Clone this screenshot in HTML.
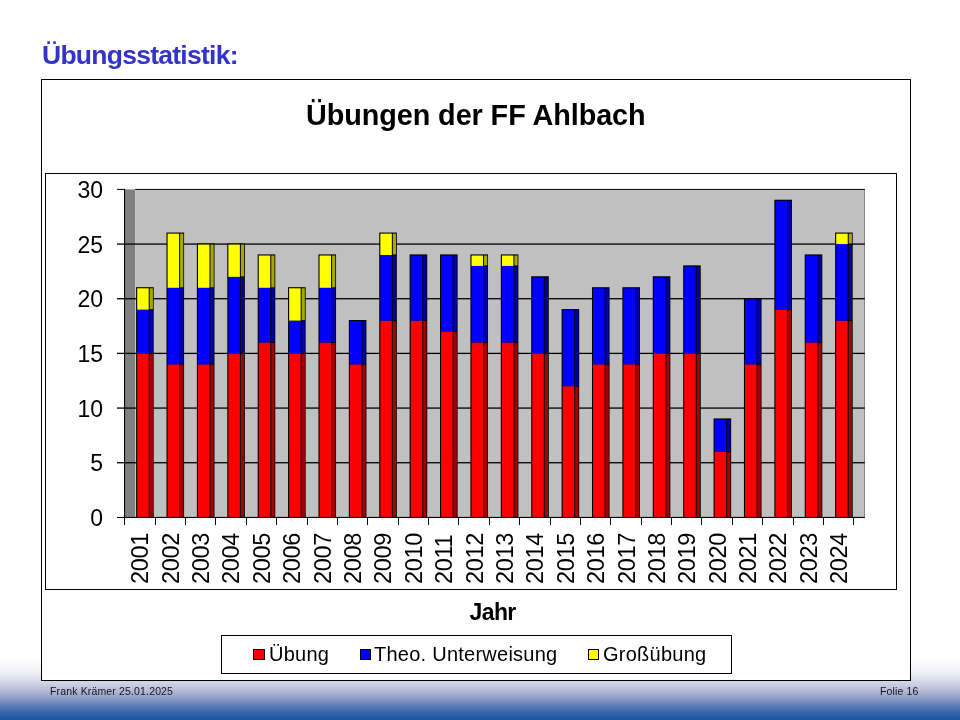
<!DOCTYPE html>
<html lang="de"><head><meta charset="utf-8"><title>Übungsstatistik</title>
<style>
html,body{margin:0;padding:0}
body{width:960px;height:720px;position:relative;overflow:hidden;background:#fff;font-family:"Liberation Sans",sans-serif;color:#000}
.bg{position:absolute;left:0;top:0;width:960px;height:720px;background:linear-gradient(to bottom,#fff 0,#fff 659px,#eeeff5 673px,#d6d9e7 681px,#c3c7db 687px,#a9b1cf 693px,#8596c3 700px,#5878b4 707px,#3464ab 713px,#2059a6 718px,#1f58a5 720px)}
.t{position:absolute;white-space:nowrap;line-height:1}
.h1{left:42px;top:42px;font-size:26.5px;font-weight:bold;color:#3333cc;letter-spacing:-0.74px}
.ct{left:306px;top:100.5px;font-size:28.8px;font-weight:bold;letter-spacing:-0.08px}
.yl{font-size:23px;width:60px;text-align:right;left:43px;letter-spacing:0px}
.xl{font-size:23.5px;letter-spacing:-0.3px;transform-origin:0 0;transform:rotate(-90deg)}
.jahr{font-size:23px;font-weight:bold;left:469.5px;top:601px;letter-spacing:-0.6px}
.lg{font-size:20px;top:644px;letter-spacing:0.25px}
.ft{font-size:10.5px;color:#15151f;top:686px;letter-spacing:0.15px}
</style></head><body>
<div class="bg"></div>
<svg width="960" height="720" viewBox="0 0 960 720" style="position:absolute;left:0;top:0">
<g shape-rendering="crispEdges">
<rect x="41.5" y="79.5" width="869" height="601" fill="#fff" stroke="#000" stroke-width="1"/>
<rect x="45.5" y="173.5" width="851" height="416" fill="#fff" stroke="#000" stroke-width="1"/>
<rect x="221.5" y="635.5" width="510" height="38" fill="#fff" stroke="#000"/>
<rect x="253.5" y="649.5" width="11" height="10" fill="#ff0000" stroke="#000"/>
<rect x="360.5" y="649.5" width="10" height="10" fill="#0000ff" stroke="#000"/>
<rect x="588.5" y="649.5" width="10" height="10" fill="#ffff00" stroke="#000"/>
</g>
<rect x="125" y="189.4" width="10.2" height="328" fill="#808080"/>
<rect x="135.2" y="189.4" width="729.6" height="328" fill="#c0c0c0"/>
<rect x="864" y="189.4" width="0.9" height="328" fill="#808080"/>
<rect x="117" y="516.90" width="747.8" height="1.1" fill="#000"/>
<rect x="117" y="462.08" width="747.8" height="1.3" fill="#000"/>
<rect x="117" y="407.42" width="747.8" height="1.3" fill="#000"/>
<rect x="117" y="352.75" width="747.8" height="1.3" fill="#000"/>
<rect x="117" y="298.08" width="747.8" height="1.3" fill="#000"/>
<rect x="117" y="243.42" width="747.8" height="1.3" fill="#000"/>
<rect x="117" y="188.90" width="8" height="1" fill="#000"/>
<rect x="135.2" y="188.90" width="729.6" height="1" fill="#000"/>
<rect x="124" y="189" width="1.1" height="329" fill="#000"/>
<rect x="124" y="517.4" width="1" height="7.6" fill="#000"/>
<rect x="155" y="517.4" width="1" height="7.6" fill="#000"/>
<rect x="185" y="517.4" width="1" height="7.6" fill="#000"/>
<rect x="215" y="517.4" width="1" height="7.6" fill="#000"/>
<rect x="246" y="517.4" width="1" height="7.6" fill="#000"/>
<rect x="276" y="517.4" width="1" height="7.6" fill="#000"/>
<rect x="307" y="517.4" width="1" height="7.6" fill="#000"/>
<rect x="337" y="517.4" width="1" height="7.6" fill="#000"/>
<rect x="367" y="517.4" width="1" height="7.6" fill="#000"/>
<rect x="398" y="517.4" width="1" height="7.6" fill="#000"/>
<rect x="428" y="517.4" width="1" height="7.6" fill="#000"/>
<rect x="458" y="517.4" width="1" height="7.6" fill="#000"/>
<rect x="489" y="517.4" width="1" height="7.6" fill="#000"/>
<rect x="519" y="517.4" width="1" height="7.6" fill="#000"/>
<rect x="550" y="517.4" width="1" height="7.6" fill="#000"/>
<rect x="580" y="517.4" width="1" height="7.6" fill="#000"/>
<rect x="610" y="517.4" width="1" height="7.6" fill="#000"/>
<rect x="641" y="517.4" width="1" height="7.6" fill="#000"/>
<rect x="671" y="517.4" width="1" height="7.6" fill="#000"/>
<rect x="701" y="517.4" width="1" height="7.6" fill="#000"/>
<rect x="732" y="517.4" width="1" height="7.6" fill="#000"/>
<rect x="762" y="517.4" width="1" height="7.6" fill="#000"/>
<rect x="793" y="517.4" width="1" height="7.6" fill="#000"/>
<rect x="823" y="517.4" width="1" height="7.6" fill="#000"/>
<rect x="853" y="517.4" width="1" height="7.6" fill="#000"/>
<rect x="136.10" y="287.20" width="17.6" height="230.70" fill="#000"/>
<rect x="137.20" y="353.40" width="11.5" height="163.50" fill="#ff0000"/>
<rect x="149.70" y="353.90" width="3.2" height="163.00" fill="#a40000"/>
<rect x="137.20" y="309.67" width="11.5" height="43.73" fill="#0000ff"/>
<rect x="149.70" y="310.17" width="3.2" height="42.73" fill="#0000a4"/>
<rect x="137.20" y="288.30" width="11.5" height="21.37" fill="#ffff00"/>
<rect x="149.70" y="288.30" width="3.2" height="20.87" fill="#a8a800"/>
<rect x="166.49" y="232.53" width="17.6" height="285.37" fill="#000"/>
<rect x="167.59" y="364.33" width="11.5" height="152.57" fill="#ff0000"/>
<rect x="180.09" y="364.83" width="3.2" height="152.07" fill="#a40000"/>
<rect x="167.59" y="287.80" width="11.5" height="76.53" fill="#0000ff"/>
<rect x="180.09" y="288.30" width="3.2" height="75.53" fill="#0000a4"/>
<rect x="167.59" y="233.63" width="11.5" height="54.17" fill="#ffff00"/>
<rect x="180.09" y="233.63" width="3.2" height="53.67" fill="#a8a800"/>
<rect x="196.88" y="243.47" width="17.6" height="274.43" fill="#000"/>
<rect x="197.98" y="364.33" width="11.5" height="152.57" fill="#ff0000"/>
<rect x="210.48" y="364.83" width="3.2" height="152.07" fill="#a40000"/>
<rect x="197.98" y="287.80" width="11.5" height="76.53" fill="#0000ff"/>
<rect x="210.48" y="288.30" width="3.2" height="75.53" fill="#0000a4"/>
<rect x="197.98" y="244.57" width="11.5" height="43.23" fill="#ffff00"/>
<rect x="210.48" y="244.57" width="3.2" height="42.73" fill="#a8a800"/>
<rect x="227.28" y="243.47" width="17.6" height="274.43" fill="#000"/>
<rect x="228.38" y="353.40" width="11.5" height="163.50" fill="#ff0000"/>
<rect x="240.88" y="353.90" width="3.2" height="163.00" fill="#a40000"/>
<rect x="228.38" y="276.87" width="11.5" height="76.53" fill="#0000ff"/>
<rect x="240.88" y="277.37" width="3.2" height="75.53" fill="#0000a4"/>
<rect x="228.38" y="244.57" width="11.5" height="32.30" fill="#ffff00"/>
<rect x="240.88" y="244.57" width="3.2" height="31.80" fill="#a8a800"/>
<rect x="257.67" y="254.40" width="17.6" height="263.50" fill="#000"/>
<rect x="258.77" y="342.47" width="11.5" height="174.43" fill="#ff0000"/>
<rect x="271.27" y="342.97" width="3.2" height="173.93" fill="#a40000"/>
<rect x="258.77" y="287.80" width="11.5" height="54.67" fill="#0000ff"/>
<rect x="271.27" y="288.30" width="3.2" height="53.67" fill="#0000a4"/>
<rect x="258.77" y="255.50" width="11.5" height="32.30" fill="#ffff00"/>
<rect x="271.27" y="255.50" width="3.2" height="31.80" fill="#a8a800"/>
<rect x="288.06" y="287.20" width="17.6" height="230.70" fill="#000"/>
<rect x="289.16" y="353.40" width="11.5" height="163.50" fill="#ff0000"/>
<rect x="301.66" y="353.90" width="3.2" height="163.00" fill="#a40000"/>
<rect x="289.16" y="320.60" width="11.5" height="32.80" fill="#0000ff"/>
<rect x="301.66" y="321.10" width="3.2" height="31.80" fill="#0000a4"/>
<rect x="289.16" y="288.30" width="11.5" height="32.30" fill="#ffff00"/>
<rect x="301.66" y="288.30" width="3.2" height="31.80" fill="#a8a800"/>
<rect x="318.45" y="254.40" width="17.6" height="263.50" fill="#000"/>
<rect x="319.55" y="342.47" width="11.5" height="174.43" fill="#ff0000"/>
<rect x="332.05" y="342.97" width="3.2" height="173.93" fill="#a40000"/>
<rect x="319.55" y="287.80" width="11.5" height="54.67" fill="#0000ff"/>
<rect x="332.05" y="288.30" width="3.2" height="53.67" fill="#0000a4"/>
<rect x="319.55" y="255.50" width="11.5" height="32.30" fill="#ffff00"/>
<rect x="332.05" y="255.50" width="3.2" height="31.80" fill="#a8a800"/>
<rect x="348.84" y="320.00" width="17.6" height="197.90" fill="#000"/>
<rect x="349.94" y="364.33" width="11.5" height="152.57" fill="#ff0000"/>
<rect x="362.44" y="364.83" width="3.2" height="152.07" fill="#a40000"/>
<rect x="349.94" y="321.10" width="11.5" height="43.23" fill="#0000ff"/>
<rect x="362.44" y="321.10" width="3.2" height="42.73" fill="#0000a4"/>
<rect x="379.24" y="232.53" width="17.6" height="285.37" fill="#000"/>
<rect x="380.34" y="320.60" width="11.5" height="196.30" fill="#ff0000"/>
<rect x="392.84" y="321.10" width="3.2" height="195.80" fill="#a40000"/>
<rect x="380.34" y="255.00" width="11.5" height="65.60" fill="#0000ff"/>
<rect x="392.84" y="255.50" width="3.2" height="64.60" fill="#0000a4"/>
<rect x="380.34" y="233.63" width="11.5" height="21.37" fill="#ffff00"/>
<rect x="392.84" y="233.63" width="3.2" height="20.87" fill="#a8a800"/>
<rect x="409.63" y="254.40" width="17.6" height="263.50" fill="#000"/>
<rect x="410.73" y="320.60" width="11.5" height="196.30" fill="#ff0000"/>
<rect x="423.23" y="321.10" width="3.2" height="195.80" fill="#a40000"/>
<rect x="410.73" y="255.50" width="11.5" height="65.10" fill="#0000ff"/>
<rect x="423.23" y="255.50" width="3.2" height="64.60" fill="#0000a4"/>
<rect x="440.02" y="254.40" width="17.6" height="263.50" fill="#000"/>
<rect x="441.12" y="331.53" width="11.5" height="185.37" fill="#ff0000"/>
<rect x="453.62" y="332.03" width="3.2" height="184.87" fill="#a40000"/>
<rect x="441.12" y="255.50" width="11.5" height="76.03" fill="#0000ff"/>
<rect x="453.62" y="255.50" width="3.2" height="75.53" fill="#0000a4"/>
<rect x="470.41" y="254.40" width="17.6" height="263.50" fill="#000"/>
<rect x="471.51" y="342.47" width="11.5" height="174.43" fill="#ff0000"/>
<rect x="484.01" y="342.97" width="3.2" height="173.93" fill="#a40000"/>
<rect x="471.51" y="265.93" width="11.5" height="76.53" fill="#0000ff"/>
<rect x="484.01" y="266.43" width="3.2" height="75.53" fill="#0000a4"/>
<rect x="471.51" y="255.50" width="11.5" height="10.43" fill="#ffff00"/>
<rect x="484.01" y="255.50" width="3.2" height="9.93" fill="#a8a800"/>
<rect x="500.80" y="254.40" width="17.6" height="263.50" fill="#000"/>
<rect x="501.90" y="342.47" width="11.5" height="174.43" fill="#ff0000"/>
<rect x="514.40" y="342.97" width="3.2" height="173.93" fill="#a40000"/>
<rect x="501.90" y="265.93" width="11.5" height="76.53" fill="#0000ff"/>
<rect x="514.40" y="266.43" width="3.2" height="75.53" fill="#0000a4"/>
<rect x="501.90" y="255.50" width="11.5" height="10.43" fill="#ffff00"/>
<rect x="514.40" y="255.50" width="3.2" height="9.93" fill="#a8a800"/>
<rect x="531.20" y="276.27" width="17.6" height="241.63" fill="#000"/>
<rect x="532.30" y="353.40" width="11.5" height="163.50" fill="#ff0000"/>
<rect x="544.80" y="353.90" width="3.2" height="163.00" fill="#a40000"/>
<rect x="532.30" y="277.37" width="11.5" height="76.03" fill="#0000ff"/>
<rect x="544.80" y="277.37" width="3.2" height="75.53" fill="#0000a4"/>
<rect x="561.59" y="309.07" width="17.6" height="208.83" fill="#000"/>
<rect x="562.69" y="386.20" width="11.5" height="130.70" fill="#ff0000"/>
<rect x="575.19" y="386.70" width="3.2" height="130.20" fill="#a40000"/>
<rect x="562.69" y="310.17" width="11.5" height="76.03" fill="#0000ff"/>
<rect x="575.19" y="310.17" width="3.2" height="75.53" fill="#0000a4"/>
<rect x="591.98" y="287.20" width="17.6" height="230.70" fill="#000"/>
<rect x="593.08" y="364.33" width="11.5" height="152.57" fill="#ff0000"/>
<rect x="605.58" y="364.83" width="3.2" height="152.07" fill="#a40000"/>
<rect x="593.08" y="288.30" width="11.5" height="76.03" fill="#0000ff"/>
<rect x="605.58" y="288.30" width="3.2" height="75.53" fill="#0000a4"/>
<rect x="622.37" y="287.20" width="17.6" height="230.70" fill="#000"/>
<rect x="623.47" y="364.33" width="11.5" height="152.57" fill="#ff0000"/>
<rect x="635.97" y="364.83" width="3.2" height="152.07" fill="#a40000"/>
<rect x="623.47" y="288.30" width="11.5" height="76.03" fill="#0000ff"/>
<rect x="635.97" y="288.30" width="3.2" height="75.53" fill="#0000a4"/>
<rect x="652.76" y="276.27" width="17.6" height="241.63" fill="#000"/>
<rect x="653.86" y="353.40" width="11.5" height="163.50" fill="#ff0000"/>
<rect x="666.36" y="353.90" width="3.2" height="163.00" fill="#a40000"/>
<rect x="653.86" y="277.37" width="11.5" height="76.03" fill="#0000ff"/>
<rect x="666.36" y="277.37" width="3.2" height="75.53" fill="#0000a4"/>
<rect x="683.16" y="265.33" width="17.6" height="252.57" fill="#000"/>
<rect x="684.26" y="353.40" width="11.5" height="163.50" fill="#ff0000"/>
<rect x="696.76" y="353.90" width="3.2" height="163.00" fill="#a40000"/>
<rect x="684.26" y="266.43" width="11.5" height="86.97" fill="#0000ff"/>
<rect x="696.76" y="266.43" width="3.2" height="86.47" fill="#0000a4"/>
<rect x="713.55" y="418.40" width="17.6" height="99.50" fill="#000"/>
<rect x="714.65" y="451.80" width="11.5" height="65.10" fill="#ff0000"/>
<rect x="727.15" y="452.30" width="3.2" height="64.60" fill="#a40000"/>
<rect x="714.65" y="419.50" width="11.5" height="32.30" fill="#0000ff"/>
<rect x="727.15" y="419.50" width="3.2" height="31.80" fill="#0000a4"/>
<rect x="743.94" y="298.13" width="17.6" height="219.77" fill="#000"/>
<rect x="745.04" y="364.33" width="11.5" height="152.57" fill="#ff0000"/>
<rect x="757.54" y="364.83" width="3.2" height="152.07" fill="#a40000"/>
<rect x="745.04" y="299.23" width="11.5" height="65.10" fill="#0000ff"/>
<rect x="757.54" y="299.23" width="3.2" height="64.60" fill="#0000a4"/>
<rect x="774.33" y="199.73" width="17.6" height="318.17" fill="#000"/>
<rect x="775.43" y="309.67" width="11.5" height="207.23" fill="#ff0000"/>
<rect x="787.93" y="310.17" width="3.2" height="206.73" fill="#a40000"/>
<rect x="775.43" y="200.83" width="11.5" height="108.83" fill="#0000ff"/>
<rect x="787.93" y="200.83" width="3.2" height="108.33" fill="#0000a4"/>
<rect x="804.72" y="254.40" width="17.6" height="263.50" fill="#000"/>
<rect x="805.82" y="342.47" width="11.5" height="174.43" fill="#ff0000"/>
<rect x="818.32" y="342.97" width="3.2" height="173.93" fill="#a40000"/>
<rect x="805.82" y="255.50" width="11.5" height="86.97" fill="#0000ff"/>
<rect x="818.32" y="255.50" width="3.2" height="86.47" fill="#0000a4"/>
<rect x="835.12" y="232.53" width="17.6" height="285.37" fill="#000"/>
<rect x="836.22" y="320.60" width="11.5" height="196.30" fill="#ff0000"/>
<rect x="848.72" y="321.10" width="3.2" height="195.80" fill="#a40000"/>
<rect x="836.22" y="244.07" width="11.5" height="76.53" fill="#0000ff"/>
<rect x="848.72" y="244.57" width="3.2" height="75.53" fill="#0000a4"/>
<rect x="836.22" y="233.63" width="11.5" height="10.43" fill="#ffff00"/>
<rect x="848.72" y="233.63" width="3.2" height="9.93" fill="#a8a800"/>
</svg>
<div class="t h1">Übungsstatistik:</div>
<div class="t ct">Übungen der FF Ahlbach</div>
<div class="t yl" style="top:506.5px">0</div>
<div class="t yl" style="top:451.5px">5</div>
<div class="t yl" style="top:397.5px">10</div>
<div class="t yl" style="top:342.5px">15</div>
<div class="t yl" style="top:287.5px">20</div>
<div class="t yl" style="top:233.5px">25</div>
<div class="t yl" style="top:178.5px">30</div>
<div class="t xl" style="left:129.2px;top:584px">2001</div>
<div class="t xl" style="left:159.6px;top:584px">2002</div>
<div class="t xl" style="left:190.0px;top:584px">2003</div>
<div class="t xl" style="left:220.4px;top:584px">2004</div>
<div class="t xl" style="left:250.8px;top:584px">2005</div>
<div class="t xl" style="left:281.2px;top:584px">2006</div>
<div class="t xl" style="left:311.5px;top:584px">2007</div>
<div class="t xl" style="left:341.9px;top:584px">2008</div>
<div class="t xl" style="left:372.3px;top:584px">2009</div>
<div class="t xl" style="left:402.7px;top:584px">2010</div>
<div class="t xl" style="left:433.1px;top:584px">2011</div>
<div class="t xl" style="left:463.5px;top:584px">2012</div>
<div class="t xl" style="left:493.9px;top:584px">2013</div>
<div class="t xl" style="left:524.3px;top:584px">2014</div>
<div class="t xl" style="left:554.7px;top:584px">2015</div>
<div class="t xl" style="left:585.1px;top:584px">2016</div>
<div class="t xl" style="left:615.5px;top:584px">2017</div>
<div class="t xl" style="left:645.9px;top:584px">2018</div>
<div class="t xl" style="left:676.2px;top:584px">2019</div>
<div class="t xl" style="left:706.6px;top:584px">2020</div>
<div class="t xl" style="left:737.0px;top:584px">2021</div>
<div class="t xl" style="left:767.4px;top:584px">2022</div>
<div class="t xl" style="left:797.8px;top:584px">2023</div>
<div class="t xl" style="left:828.2px;top:584px">2024</div>
<div class="t jahr">Jahr</div>
<div class="t lg" style="left:269px">Übung</div>
<div class="t lg" style="left:374px">Theo. Unterweisung</div>
<div class="t lg" style="left:603px">Großübung</div>
<div class="t ft" style="left:50px">Frank Krämer 25.01.2025</div>
<div class="t ft" style="left:880px">Folie 16</div>
</body></html>
